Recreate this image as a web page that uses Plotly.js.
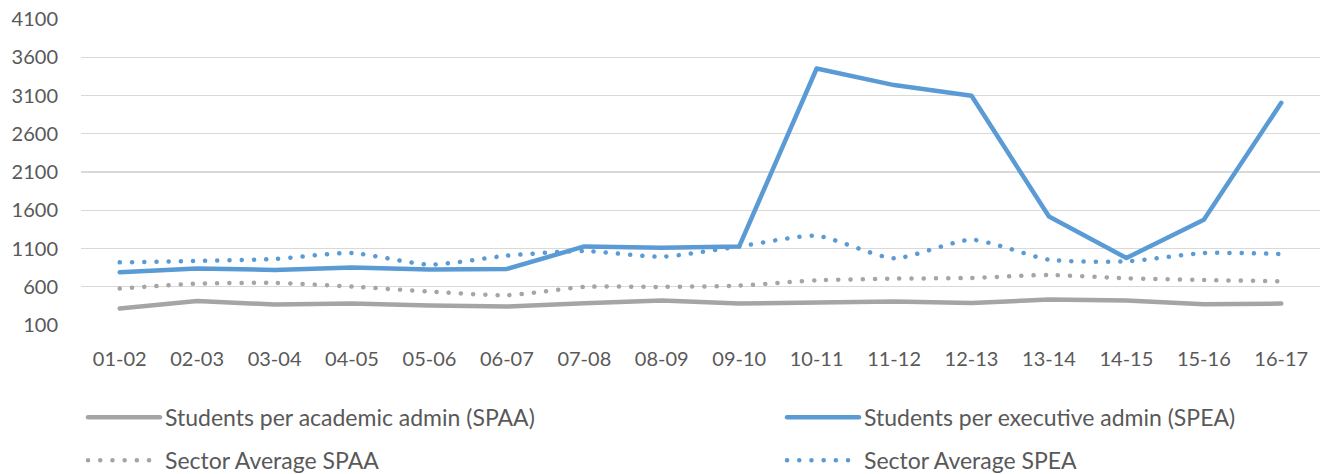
<!DOCTYPE html>
<html><head><meta charset="utf-8">
<script src="https://cdn.plot.ly/plotly-3.0.1.min.js"></script>
<style>body{margin:0;background:#fff}#chart{width:1328px;height:474px}
#chart .scatterlayer .js-line, #chart .legendlines path{stroke-linecap: round; stroke-linejoin: round;}</style>
</head><body><div id="chart"></div>
<script>
const years = ["01-02","02-03","03-04","04-05","05-06","06-07","07-08","08-09","09-10","10-11","11-12","12-13","13-14","14-15","15-16","16-17"];
const spaa = [315,415,367,380,355,341,384,420,380,397,406,389,432,419,371,380];
const spea = [788,840,820,850,824,833,1127,1110,1127,3453,3236,3096,1519,976,1475,3005];
const sectorSpaa = [576,641,650,602,537,489,598,598,615,684,706,715,754,710,689,671];
const sectorSpea = [919,937,963,1041,889,1006,1067,993,1127,1266,971,1215,954,932,1041,1028];
const yTicks = [100,600,1100,1600,2100,2600,3100,3600,4100];

const GRAY = "#a5a5a5", BLUE = "#5b9bd5";
const FONT = "Lato, 'Open Sans', sans-serif";
const DOTS = "0.1px,12.1px";
const traces = [
  {x: years, y: spaa, name: "Students per academic admin (SPAA)", mode: "lines",
   line: {color: GRAY, width: 4.5}, legend: "legend"},
  {x: years, y: spea, name: "Students per executive admin (SPEA)", mode: "lines",
   line: {color: BLUE, width: 4.5}, legend: "legend2"},
  {x: years, y: sectorSpaa, name: "Sector Average SPAA", mode: "lines",
   line: {color: GRAY, width: 4.5, dash: DOTS, shape: "spline", smoothing: 0.6}, legend: "legend3"},
  {x: years, y: sectorSpea, name: "Sector Average SPEA", mode: "lines",
   line: {color: BLUE, width: 4.5, dash: DOTS, shape: "spline", smoothing: 0.6}, legend: "legend4"}
];
const L = 81, T = 19, B = 148.5, R = 8, W = 1328, H = 474;
const pw = W - L - R, ph = H - T - B;
function leg(px, py) {
  return {orientation: "h", xanchor: "left", yanchor: "middle",
    x: (px - L) / pw, y: -(py - (T + ph)) / ph,
    font: {family: FONT, size: 23, color: "#595959"},
    itemwidth: 72, bgcolor: "rgba(0,0,0,0)"};
}
const layout = {
  width: W, height: H,
  margin: {l: L, r: R, t: T, b: B, autoexpand: false},
  paper_bgcolor: "#fff", plot_bgcolor: "#fff",
  font: {family: FONT, size: 20, color: "#595959"},
  xaxis: {type: "category", showgrid: false, zeroline: false, showline: false, ticks: "",
    tickfont: {family: FONT, size: 20, color: "#595959"}, ticklabelstandoff: 20, range: [-0.5, 15.5]},
  yaxis: {range: [100, 4100], tickvals: yTicks, showgrid: true, gridcolor: "#d9d9d9", gridwidth: 1.3,
    zeroline: false, showline: false, ticks: "", ticklabelstandoff: 22,
    tickfont: {family: FONT, size: 20, color: "#595959"}},
  legend: leg(83, 418),
  legend2: leg(782, 418),
  legend3: leg(83, 461),
  legend4: leg(782, 461),
  showlegend: true
};
Plotly.newPlot("chart", traces, layout, {displayModeBar: false, staticPlot: true});
</script></body></html>
